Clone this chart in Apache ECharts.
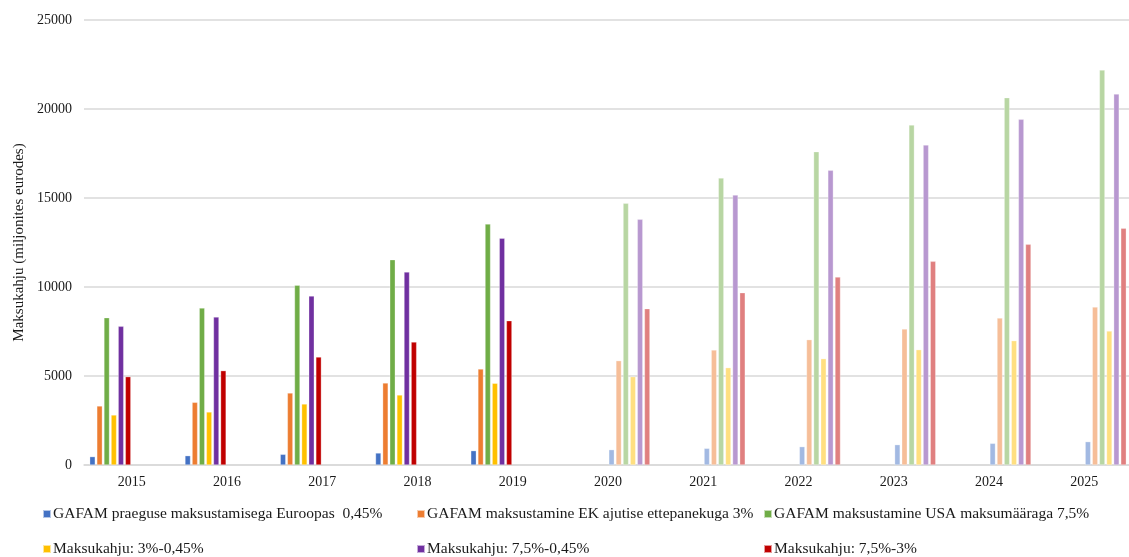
<!DOCTYPE html>
<html>
<head>
<meta charset="utf-8">
<script src="https://cdn.jsdelivr.net/npm/echarts@6/dist/echarts.min.js"></script>
<style>
  html, body { margin: 0; padding: 0; background: #fff; }
  #chart { width: 1129px; height: 557px; }
</style>
</head>
<body>
<div id="chart"></div>
<script>
// Years on the category axis
const years = ['2015', '2016', '2017', '2018', '2019', '2020', '2021', '2022', '2023', '2024', '2025'];

// Series names (legend)
const seriesNames = [
  'GAFAM praeguse maksustamisega Euroopas  0,45%',
  'GAFAM maksustamine EK ajutise ettepanekuga 3%',
  'GAFAM maksustamine USA maksumääraga 7,5%',
  'Maksukahju: 3%-0,45%',
  'Maksukahju: 7,5%-0,45%',
  'Maksukahju: 7,5%-3%'
];

// Actual values 2015–2019 (million euros)
const actualEU045 = [470, 523, 600, 674, 805];
const actualEK3   = [3315, 3521, 4045, 4607, 5393];
const actualUSA75 = [8277, 8820, 10096, 11534, 13539];
const actualLoss3 = [2809, 2978, 3427, 3933, 4590];
const actualLoss75 = [7790, 8315, 9494, 10843, 12736];
const actualLoss753 = [4963, 5300, 6067, 6910, 8107];

// Projected values 2020–2025 (million euros)
const projEU045 = [861, 936, 1030, 1142, 1217, 1311];
const projEK3   = [5861, 6461, 7041, 7640, 8258, 8876];
const projUSA75 = [14700, 16124, 17603, 19101, 20637, 22191];
const projLoss3 = [4963, 5468, 5974, 6479, 6985, 7528];
const projLoss75 = [13801, 15169, 16554, 17978, 19420, 20843];
const projLoss753 = [8783, 9681, 10562, 11442, 12397, 13297];

// Y axis ticks
const yMin = 0, yMax = 25000, yStep = 5000;

const darkColors  = ['#4472C4', '#ED7D31', '#70AD47', '#FFC000', '#7030A0', '#C00000'];
const lightColors = ['#A2B9E2', '#F6BE98', '#B8D6A3', '#FFDF80', '#B898D0', '#E08080'];

const actual = [actualEU045, actualEK3, actualUSA75, actualLoss3, actualLoss75, actualLoss753];
const proj = [projEU045, projEK3, projUSA75, projLoss3, projLoss75, projLoss753];

const nHist = actual[0].length;
const series = [];
actual.forEach((vals, i) => {
  series.push({
    name: seriesNames[i],
    type: 'bar',
    data: years.map((y, k) => (k < nHist ? vals[k] : null)),
    itemStyle: { color: darkColors[i], borderColor: 'rgba(255,255,255,0.6)', borderWidth: 0.5 },
    barCategoryGap: '12%',
    barGap: '30%'
  });
});
proj.forEach((vals, i) => {
  series.push({
    name: seriesNames[i] + ' (prognoos)',
    type: 'bar',
    data: years.map((y, k) => (k >= nHist ? vals[k - nHist] : null)),
    itemStyle: { color: lightColors[i], borderColor: 'rgba(255,255,255,0.6)', borderWidth: 0.5 },
    barCategoryGap: '12%',
    barGap: '30%'
  });
});

const font = 'Liberation Serif';

// Legend: three columns, two rows, one legend component per entry
const legendCols = [42, 416, 763];
const legendRows = [506, 541];
const legends = seriesNames.map((name, i) => ({
  left: legendCols[i % 3],
  top: legendRows[Math.floor(i / 3)],
  orient: 'horizontal',
  padding: 0,
  itemWidth: 8,
  itemHeight: 8,
  icon: 'rect',
  selectedMode: false,
  data: [name],
  textStyle: { fontFamily: font, fontSize: 15.5, color: '#1a1a1a', padding: [0, 0, 0, -3] }
}));

const chart = echarts.init(document.getElementById('chart'), null, { renderer: 'canvas' });
chart.setOption({
  animation: false,
  backgroundColor: '#ffffff',
  grid: { left: 84, top: 20, height: 445, width: 1048, outerBoundsMode: 'none', containLabel: false },
  legend: legends,
  xAxis: {
    type: 'category',
    data: years,
    axisLine: { lineStyle: { color: '#d9d9d9', width: 1.5 } },
    axisTick: { show: false },
    axisLabel: { fontFamily: font, fontSize: 14, color: '#1a1a1a', margin: 10 }
  },
  yAxis: {
    type: 'value',
    min: yMin,
    max: yMax,
    interval: yStep,
    name: 'Maksukahju (miljonites eurodes)',
    nameLocation: 'middle',
    nameGap: 57,
    nameTextStyle: { fontFamily: font, fontSize: 15, color: '#1a1a1a' },
    axisLine: { show: false },
    axisTick: { show: false },
    axisLabel: { fontFamily: font, fontSize: 14, color: '#1a1a1a', margin: 12, formatter: v => String(v) },
    splitLine: { lineStyle: { color: '#d9d9d9', width: 1.5 } }
  },
  series: series
});
</script>
</body>
</html>
